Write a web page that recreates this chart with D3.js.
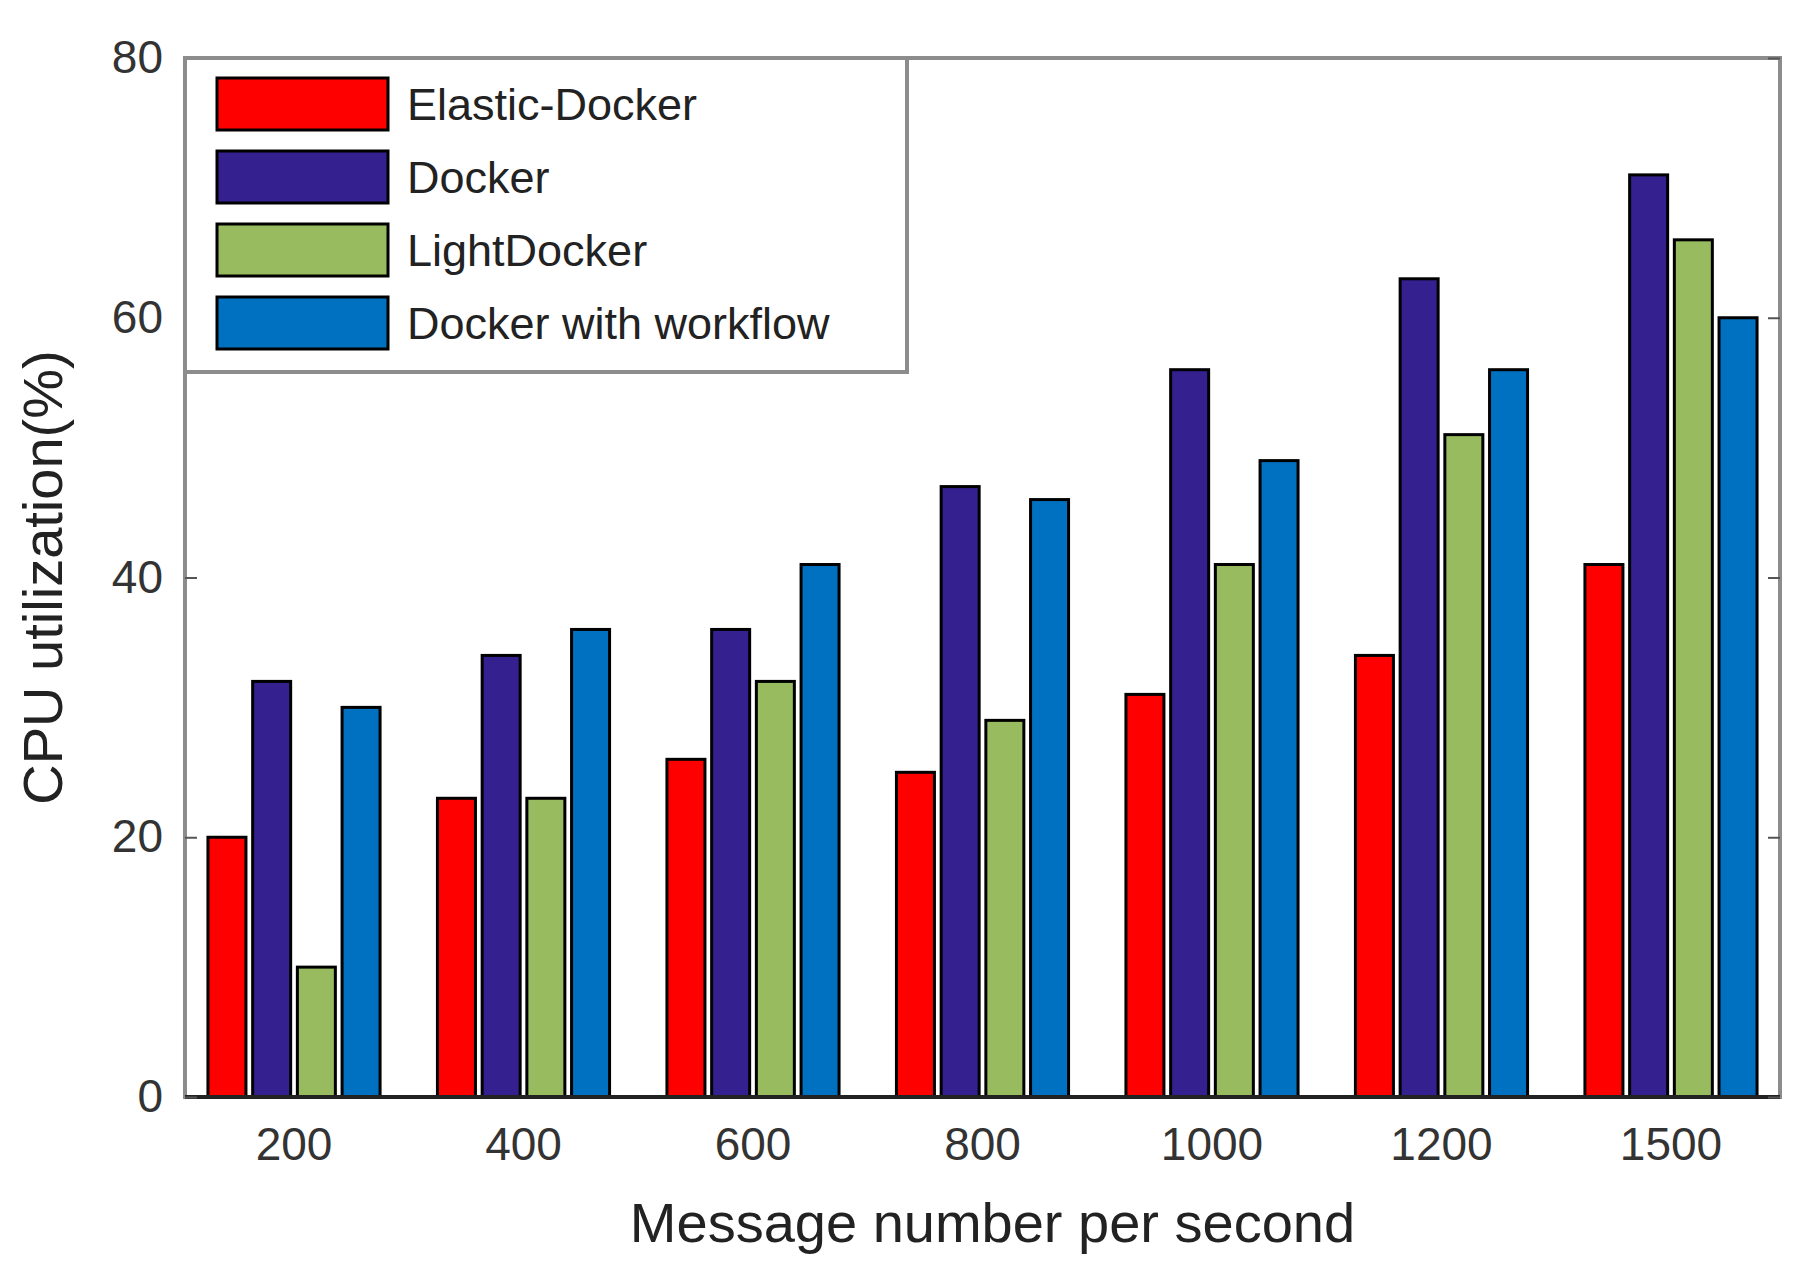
<!DOCTYPE html>
<html><head><meta charset="utf-8">
<script src="https://cdn.jsdelivr.net/npm/d3@7"></script>
<style>body{margin:0;background:#fff}text{font-family:"Liberation Sans",Arial,sans-serif;fill:#222}</style>
</head><body><div id="chart"></div>
<script>
const categories = ["200", "400", "600", "800", "1000", "1200", "1500"];
const seriesNames = ["Elastic-Docker", "Docker", "LightDocker", "Docker with workflow"];
const seriesColors = ["#ff0000", "#35208f", "#97bb5e", "#0070c0"];
const elastic = [20, 23, 26, 25, 31, 34, 41];
const docker = [32, 34, 36, 47, 56, 63, 71];
const light = [10, 23, 32, 29, 41, 51, 66];
const workflow = [30, 36, 41, 46, 49, 56, 60];
const yTicks = [0, 20, 40, 60, 80];
const series = [elastic, docker, light, workflow];

const width = 1804, height = 1272;
const m = { left: 185, top: 58, right: 1780, bottom: 1097 };

const svg = d3.select("#chart").append("svg").attr("width", width).attr("height", height);

const x = d3.scaleBand().domain(categories).range([m.left, m.right]).paddingInner(0.25).paddingOuter(0.1);
const xs = d3.scaleBand().domain(d3.range(4)).range([0, x.bandwidth()]).paddingInner(0.15);
const y = d3.scaleLinear().domain([0, 80]).range([m.bottom, m.top]);

categories.forEach((c, i) => {
  series.forEach((s, j) => {
    svg.append("rect")
      .attr("x", x(c) + xs(j)).attr("y", y(s[i]))
      .attr("width", xs.bandwidth()).attr("height", y(0) - y(s[i]))
      .attr("fill", seriesColors[j]).attr("stroke", "#000").attr("stroke-width", 3);
  });
});

// box
svg.append("rect").attr("x", m.left).attr("y", m.top).attr("width", m.right - m.left)
  .attr("height", m.bottom - m.top).attr("fill", "none").attr("stroke", "#8c8c8c").attr("stroke-width", 4);
svg.append("line").attr("x1", m.left).attr("x2", m.right).attr("y1", m.bottom).attr("y2", m.bottom)
  .attr("stroke", "#222").attr("stroke-width", 4);

// y axes (ticks inward on both sides)
const yl = svg.append("g").attr("transform", `translate(${m.left},0)`)
  .call(d3.axisLeft(y).tickValues(yTicks).tickSizeInner(-12).tickSizeOuter(0).tickPadding(22));
const yr = svg.append("g").attr("transform", `translate(${m.right},0)`)
  .call(d3.axisRight(y).tickValues(yTicks).tickSizeInner(-12).tickSizeOuter(0).tickFormat(""));
[yl, yr].forEach(g => { g.select(".domain").remove(); g.selectAll("line").attr("stroke", "#555").attr("stroke-width", 2); });
yl.selectAll("text").attr("font-size", 46).style("fill", "#333");

// x axis
const xa = svg.append("g").attr("transform", `translate(0,${m.bottom})`)
  .call(d3.axisBottom(x).tickSize(0).tickPadding(30));
xa.select(".domain").remove();
xa.selectAll("text").attr("font-size", 46).style("fill", "#333").attr("dy", "0.71em");

svg.append("text").attr("x", (m.left + m.right) / 2 + 10).attr("y", 1242).attr("text-anchor", "middle")
  .attr("font-size", 56).text("Message number per second");
svg.append("text").attr("transform", `translate(62,${(m.top + m.bottom) / 2}) rotate(-90)`)
  .attr("text-anchor", "middle").attr("font-size", 56).text("CPU utilization(%)");

// legend
const lg = svg.append("g");
lg.append("rect").attr("x", m.left).attr("y", m.top).attr("width", 722).attr("height", 314)
  .attr("fill", "#fff").attr("stroke", "#8c8c8c").attr("stroke-width", 4);
seriesNames.forEach((n, j) => {
  const cy = 104 + j * 73;
  lg.append("rect").attr("x", 217).attr("y", cy - 26).attr("width", 171).attr("height", 52)
    .attr("fill", seriesColors[j]).attr("stroke", "#000").attr("stroke-width", 3);
  lg.append("text").attr("x", 407).attr("y", cy).attr("dy", "0.36em").attr("font-size", 45).text(n);
});
</script></body></html>
